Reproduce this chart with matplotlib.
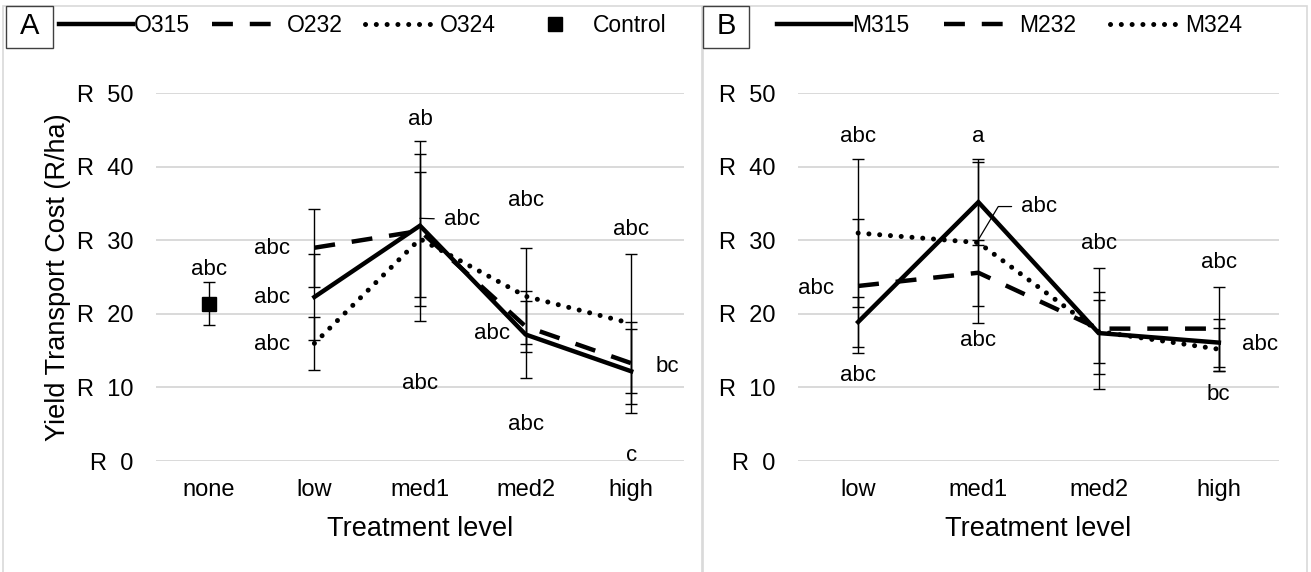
import matplotlib
matplotlib.use('Agg')
import matplotlib.pyplot as plt
import matplotlib.transforms as mtransforms
from matplotlib.patches import Rectangle

plt.rcParams['font.family'] = ['Liberation Sans', 'DejaVu Sans']

# ---------------- data ----------------
cats_a = ['none', 'low', 'med1', 'med2', 'high']
cats_b = ['low', 'med1', 'med2', 'high']

control = [21.4]
control_err = [2.95]

o315 = [22.3, 32.0, 17.2, 12.2]
o315_err = [5.9, 9.7, 5.9, 5.7]
o232 = [29.0, 31.3, 18.3, 13.3]
o232_err = [5.3, 12.2, 3.5, 5.6]
o324 = [16.0, 30.2, 22.4, 18.7]
o324_err = [3.6, 9.1, 6.5, 9.5]

m315 = [18.9, 35.2, 17.4, 16.1]
m315_err = [3.35, 5.8, 5.6, 3.25]
m232 = [23.8, 25.6, 18.0, 18.0]
m232_err = [9.1, 4.5, 8.2, 5.7]
m324 = [31.0, 29.7, 17.6, 15.2]
m324_err = [10.0, 10.9, 4.3, 2.9]

yticks = [0, 10, 20, 30, 40, 50]
ytick_labels = ['R  0', 'R  10', 'R  20', 'R  30', 'R  40', 'R  50']

# significance letters: (text, category, y, x offset px)
letters_a = [('abc', 'none', 26.0, 0),
             ('abc', 'low', 28.9, -42), ('abc', 'low', 22.2, -42), ('abc', 'low', 15.8, -42),
             ('ab', 'med1', 46.4, 0), ('abc', 'med1', 10.5, 0),
             ('abc', 'med2', 35.4, 0), ('abc', 'med2', 17.4, -34), ('abc', 'med2', 4.9, 0),
             ('abc', 'high', 31.5, 0), ('bc', 'high', 12.9, 36), ('c', 'high', 0.8, 0)]
# leader labels: (text, category, y text, x offset px, y target)
leaders_a = [('abc', 'med1', 32.9, 42, 33.0)]

letters_b = [('abc', 'low', 44.1, 0), ('abc', 'low', 23.4, -42), ('abc', 'low', 11.6, 0),
             ('a', 'med1', 44.1, 0), ('abc', 'med1', 16.4, 0),
             ('abc', 'med2', 29.6, 0),
             ('abc', 'high', 27.0, 0), ('abc', 'high', 15.8, 41), ('bc', 'high', 9.0, 0)]
leaders_b = [('abc', 'med1', 34.6, 61, 30.1)]

# ---------------- figure ----------------
W, H = 1311, 572
DPI = 100
fig = plt.figure(figsize=(W / DPI, H / DPI), dpi=DPI)

def fx(px):
    return px / W

def fy(py):
    return 1 - py / H

# panel frames
for x0, x1 in [(3, 702), (703, 1307)]:
    fig.patches.append(Rectangle((fx(x0), fy(580)), fx(x1 - x0), (580 - 6) / H,
                                 transform=fig.transFigure, fill=False,
                                 edgecolor='#d9d9d9', lw=1.2))

y_top, y_bot = 93.3, 461
axA = fig.add_axes([fx(156), fy(y_bot), fx(684 - 156), (y_bot - y_top) / H])
axB = fig.add_axes([fx(798), fy(y_bot), fx(1279 - 798), (y_bot - y_top) / H])

LW = 3.2
FS_TICK = 17
FS_LAB = 19.5
FS_TXT = 16
FS_LEG = 16.5


def style_axis(ax, cats):
    ax.set_xlim(-0.5, len(cats) - 0.5)
    ax.set_ylim(0, 50)
    ax.set_yticks(yticks)
    ax.set_yticklabels(ytick_labels, fontsize=FS_TICK)
    ax.set_xticks(range(len(cats)))
    ax.set_xticklabels(cats, fontsize=FS_TICK)
    for s in ax.spines.values():
        s.set_visible(False)
    ax.tick_params(length=0)
    ax.tick_params(axis='y', pad=16.5)
    ax.tick_params(axis='x', pad=13)
    ax.grid(axis='y', color='#d9d9d9', lw=1.4)
    ax.set_axisbelow(True)
    ax.set_xlabel('Treatment level', fontsize=FS_LAB, labelpad=11)


def draw_series(ax, xs, vals, errs, label, kind):
    ax.errorbar(xs, vals, yerr=errs, fmt='none', ecolor='black', elinewidth=1.0,
                capsize=4, capthick=1.0, zorder=2)
    if kind == 'solid':
        ln, = ax.plot(xs, vals, color='black', lw=LW, label=label, zorder=3,
                      solid_joinstyle='miter')
    elif kind == 'dashed':
        ln, = ax.plot(xs, vals, color='black', lw=LW, label=label, zorder=3)
        ln.set_dashes([4.7, 3.8])
    else:
        ln, = ax.plot(xs, vals, color='black', lw=3.6, label=label, zorder=3,
                      dash_capstyle='round')
        ln.set_dashes([0.01, 2.15])
    return ln


def put_letters(ax, cats, letters, leaders):
    for t, c, y, dx in letters:
        tr = mtransforms.offset_copy(ax.transData, fig=fig, x=dx, y=0, units='dots')
        ax.text(cats.index(c), y, t, transform=tr, ha='center', va='center',
                fontsize=FS_TXT, clip_on=False)
    for t, c, yt, dx, ytar in leaders:
        tr = mtransforms.offset_copy(ax.transData, fig=fig, x=dx, y=0, units='dots')
        xi = cats.index(c)
        if abs(ytar - yt) < 0.5:
            cs = 'arc3'
        else:
            cs = 'angle,angleA=0,angleB=59,rad=0'
        ax.annotate(t, xy=(xi, ytar), xycoords='data', xytext=(xi, yt), textcoords=tr,
                    ha='center', va='center', fontsize=FS_TXT, annotation_clip=False,
                    arrowprops=dict(arrowstyle='-', color='black', lw=0.9,
                                    shrinkA=5, shrinkB=0, connectionstyle=cs,
                                    relpos=(0, 0.5)))


# ---- panel A ----
style_axis(axA, cats_a)
xs_a = [cats_a.index(c) for c in ['low', 'med1', 'med2', 'high']]
hA = []
hA.append(draw_series(axA, xs_a, o315, o315_err, 'O315', 'solid'))
hA.append(draw_series(axA, xs_a, o232, o232_err, 'O232', 'dashed'))
hA.append(draw_series(axA, xs_a, o324, o324_err, 'O324', 'dotted'))
axA.errorbar([0], control, yerr=control_err, fmt='none', ecolor='black', elinewidth=1.0,
             capsize=4, capthick=1.0, zorder=2)
cm, = axA.plot([0], control, ls='none', marker='s', ms=9.5, color='black', label='Control',
               zorder=4)
hA.append(cm)
axA.set_ylabel('Yield Transport Cost (R/ha)', fontsize=FS_LAB)
axA.yaxis.set_label_coords((71 - 156) / (684 - 156), 0.5)
put_letters(axA, cats_a, letters_a, leaders_a)

# ---- panel B ----
style_axis(axB, cats_b)
xs_b = list(range(len(cats_b)))
hB = []
hB.append(draw_series(axB, xs_b, m315, m315_err, 'M315', 'solid'))
hB.append(draw_series(axB, xs_b, m232, m232_err, 'M232', 'dashed'))
hB.append(draw_series(axB, xs_b, m324, m324_err, 'M324', 'dotted'))
put_letters(axB, cats_b, letters_b, leaders_b)

# ---- legends ----
leg_y = fy(26)
hl = 74 * 72 / DPI / FS_LEG
legA = fig.legend(handles=hA, loc='center left', bbox_to_anchor=(fx(59), leg_y), ncol=4,
                  frameon=False, fontsize=FS_LEG, handlelength=hl, handletextpad=0.05,
                  columnspacing=0.95, borderpad=0, borderaxespad=0)
legB = fig.legend(handles=hB, loc='center left', bbox_to_anchor=(fx(777), leg_y), ncol=3,
                  frameon=False, fontsize=FS_LEG, handlelength=hl, handletextpad=0.05,
                  columnspacing=1.5, borderpad=0, borderaxespad=0)

# ---- panel tags ----
for x0, x1, tag in [(6, 53, 'A'), (703, 749, 'B')]:
    fig.patches.append(Rectangle((fx(x0), fy(48)), fx(x1 - x0), (48 - 6) / H,
                                 transform=fig.transFigure, fill=False,
                                 edgecolor='#404040', lw=1.0))
    fig.text(fx((x0 + x1) / 2), fy(26), tag, ha='center', va='center', fontsize=21)

fig.savefig('out.png', dpi=DPI)
